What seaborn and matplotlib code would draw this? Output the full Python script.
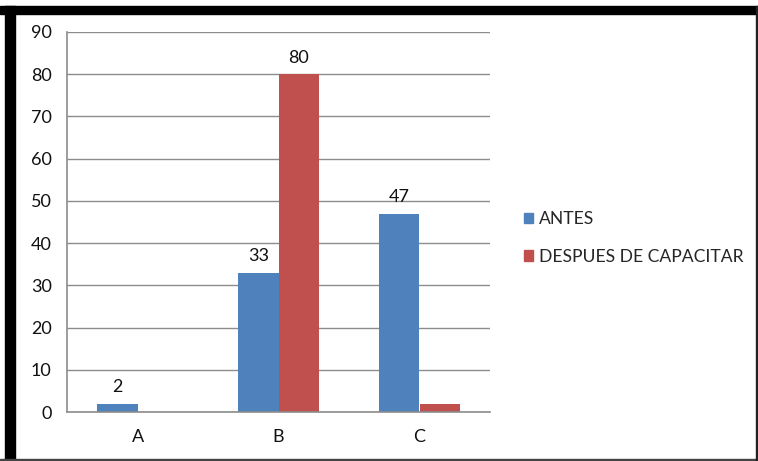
import pandas as pd
import matplotlib.pyplot as plt
import seaborn as sns
from matplotlib.patches import Rectangle

# data
categories = ["A", "B", "C"]
antes = [2, 33, 47]
despues = [0, 80, 2]
antes_labels = ["2", "33", "47"]
despues_labels = ["", "80", ""]
series_names = ["ANTES", "DESPUES DE CAPACITAR"]
yticks = [0, 10, 20, 30, 40, 50, 60, 70, 80, 90]

colors = ["#4F81BD", "#C0504D"]
grid_color = "#8C8C8C"
fs = 13

df = pd.DataFrame({
    "cat": categories * 2,
    "serie": [series_names[0]] * 3 + [series_names[1]] * 3,
    "valor": antes + despues,
})

sns.set_style("white")
plt.rcParams["font.family"] = ["Lato", "DejaVu Sans"]

W, H = 758, 461
fig = plt.figure(figsize=(W / 100, H / 100), dpi=100)
ax = fig.add_axes([67 / W, (H - 412) / H, (490 - 67) / W, (412 - 32) / H])

sns.barplot(data=df, x="cat", y="valor", hue="serie", palette=colors,
            width=0.57, saturation=1, linewidth=0, ax=ax, legend=False)

for cont, labs in zip(ax.containers, [antes_labels, despues_labels]):
    ax.bar_label(cont, labels=labs, padding=6, fontsize=fs, color="#111111")

ax.set_xlim(-0.5, 2.5)
ax.set_ylim(0, 90)
ax.set_yticks(yticks)
ax.set_xlabel("")
ax.set_ylabel("")
ax.grid(axis="y", color=grid_color, linewidth=1)
ax.set_axisbelow(True)

for s in ["top", "right"]:
    ax.spines[s].set_visible(False)
for s in ["left", "bottom"]:
    ax.spines[s].set_color(grid_color)
    ax.spines[s].set_linewidth(1.2)

ax.tick_params(axis="y", length=5, color=grid_color, width=1,
               labelsize=fs, labelcolor="#111111", pad=6)
ax.tick_params(axis="x", which="major", length=0, labelsize=fs,
               labelcolor="#111111", pad=12)
ax.set_xticks([-0.5, 0.5, 1.5, 2.5], minor=True)
ax.tick_params(axis="x", which="minor", length=5, color=grid_color, width=1)

handles = [Rectangle((0, 0), 1, 1, color=c) for c in colors]
fig.legend(handles, series_names, loc="center left",
           bbox_to_anchor=(515 / W, 1 - 238 / H), frameon=False,
           fontsize=12.6, handlelength=0.55, handleheight=0.55,
           handletextpad=0.3, labelspacing=1.25, borderpad=0)

# picture frame
fig.add_artist(Rectangle((0, 1 - 14 / H), 1, 8 / H, transform=fig.transFigure,
                         color="black", zorder=10))
fig.add_artist(Rectangle((5 / W, 0), 10 / W, 1 - 6 / H, transform=fig.transFigure,
                         color="black", zorder=10))
fig.add_artist(Rectangle((0, 0), 1, 2 / H, transform=fig.transFigure,
                         color="#444444", zorder=10))
fig.add_artist(Rectangle((1 - 2 / W, 0), 2 / W, 1 - 6 / H, transform=fig.transFigure,
                         color="#222222", zorder=10))

fig.savefig("out.png", dpi=100)
